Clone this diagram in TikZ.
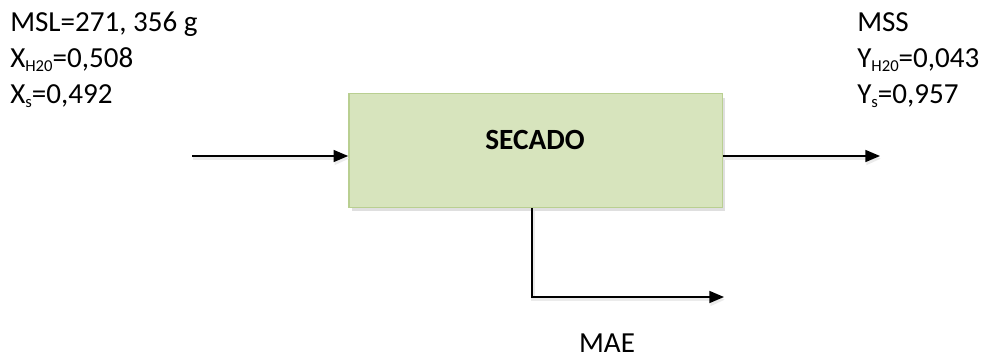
\documentclass[tikz,border=0pt]{standalone}
\usepackage{fontspec}
\setmainfont{Carlito}
\usetikzlibrary{arrows.meta,shadows}

\definecolor{boxfill}{HTML}{D7E4BD}
\definecolor{boxline}{HTML}{B9CF91}

% small lowered index, e.g. X_{H20}
\newcommand{\lowidx}[1]{\raisebox{-2.5pt}{\fontsize{12.5}{13}\selectfont #1}}

\tikzset{
	flow/.style={line width=1.2pt, -{Triangle[length=11pt,width=9pt]},
		preaction={draw=black!8, line width=2.5pt, transform canvas={shift={(0.8pt,-2pt)}}}},
	label/.style={inner sep=0pt, anchor=base west, font=\fontsize{21.8}{24}\selectfont},
	unit/.style={draw=boxline, line width=1pt, fill=boxfill, minimum width=280pt, minimum height=85pt,
		drop shadow={opacity=0.25, shadow xshift=2pt, shadow yshift=-3pt}}
}

\begin{document}
\begin{tikzpicture}[x=0.75pt,y=-0.75pt]
	\useasboundingbox (0,0) rectangle (983,360);

	\node[unit] (secado) at (535.5,150.5) {};
	\node[font=\fontsize{22}{24}\selectfont\bfseries] (titulo) at (535,140) {SECADO};

	% corrientes
	\coordinate (entrada) at (192,156);
	\coordinate (salida) at (880,156);
	\coordinate (codo) at (532,297);
	\coordinate (purga) at (724,297);

	\draw[flow] (entrada) -- (secado.west |- entrada);
	\draw[flow] (secado.east |- salida) -- (salida);
	\draw[flow] (secado.south -| codo) -- (codo) -- (purga);

	% datos de entrada
	\node[label] (msl) at (10,32) {MSL=271, 356 g};
	\node[label] (xh) at (10,68) {X\lowidx{H20}=0,508};
	\node[label] (xs) at (10,104) {X\lowidx{s}=0,492};

	% datos de salida
	\node[label] (mss) at (857,32) {MSS};
	\node[label] (yh) at (857,68) {Y\lowidx{H20}=0,043};
	\node[label] (ys) at (857,104) {Y\lowidx{s}=0,957};

	\node[label, anchor=base] (mae) at (607,352) {MAE};
\end{tikzpicture}
\end{document}
